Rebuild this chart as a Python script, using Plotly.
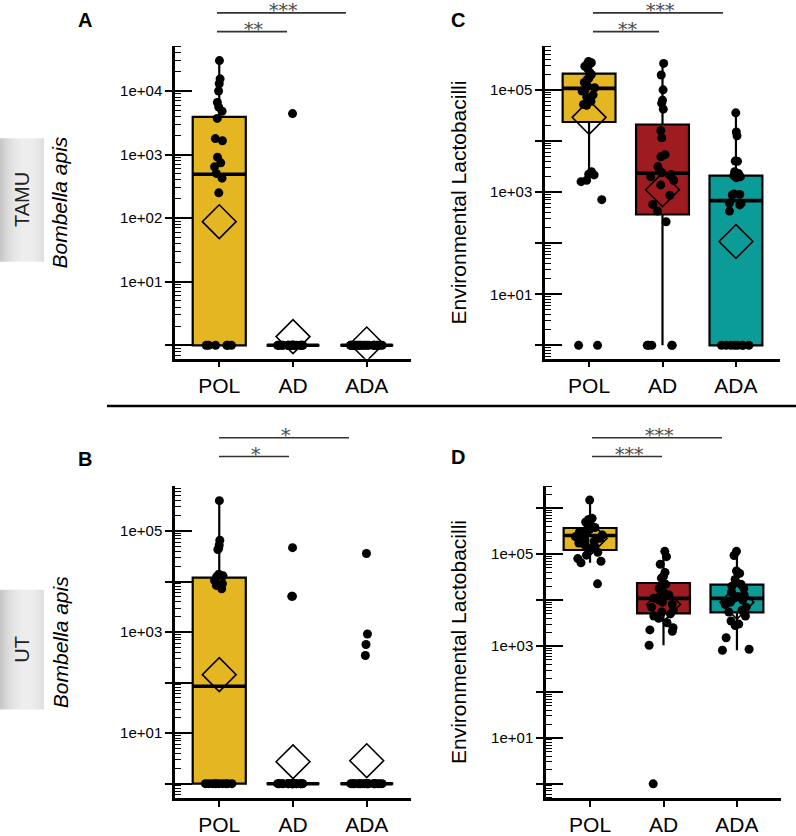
import plotly.graph_objects as go

W, H = 796, 836
cats = ["POL", "AD", "ADA"]
box_colors = ["#E4B622", "#9E1C20", "#0B9C98"]

# ---------------- Panel A : Bombella apis, TAMU ----------------
A_POL = [30000, 15500, 13000, 10000, 6600, 5600, 4800, 3700, 1780, 1650, 910, 740, 640,
         505, 425, 250, 1, 1, 1, 1, 1, 1]
A_AD = [4400] + [1] * 20
A_ADA = [1] * 20
A_q1 = [1, 1, 1]
A_med = [490, 1, 1]
A_q3 = [3900, 1, 1]
A_lo = [1, 1, 1]
A_hi = [30000, 1, 1]
A_mean = [88, 1.37, 1.05]

# ---------------- Panel C : Environmental Lactobacilli, TAMU ----------------
C_POL = [360000, 340000, 330000, 310000, 290000, 260000, 220000, 200000, 170000, 160000,
         140000, 120000, 110000, 100000, 95000, 80000, 72000, 60000, 52000, 50000,
         2500, 2230, 2170, 1700, 1600, 710, 1, 1]
C_AD = [330000, 195000, 100000, 63000, 55000, 42000, 16000, 11500, 5400, 4900, 3150, 2600,
        2400, 2200, 2000, 1700, 1380, 865, 570, 425, 262, 1, 1, 1, 1, 1]
C_ADA = [35500, 15000, 12600, 4040, 4000, 2500, 2300, 2100, 2000, 1900, 920, 900, 880, 610,
         600, 560, 425, 1, 1, 1, 1, 1, 1, 1, 1]
C_q1 = [23500, 364, 1]
C_med = [107000, 2330, 680]
C_q3 = [208000, 21000, 2100]
C_lo = [1650, 1, 1]
C_hi = [363000, 316000, 35500]
C_mean = [29000, 1110, 108]

# ---------------- Panel B : Bombella apis, UT ----------------
B_POL = [400000, 66000, 53000, 46000, 43000, 14000, 13000, 12500, 10500, 9100, 8400, 7200] + [1] * 10
B_AD = [47000, 5100, 5100] + [1] * 20
B_ADA = [36000, 920, 570, 345] + [1] * 20
B_q1 = [1, 1, 1]
B_med = [85, 1, 1]
B_q3 = [12000, 1, 1]
B_lo = [1, 1, 1]
B_hi = [400000, 1, 1]
B_mean = [144, 2.72, 2.85]

# ---------------- Panel D : Environmental Lactobacilli, UT ----------------
D_POL = [1500000, 600000, 570000, 520000, 500000, 450000, 400000, 380000, 350000, 320000,
         300000, 280000, 260000, 250000, 240000, 220000, 200000, 190000, 175000, 160000,
         150000, 130000, 110000, 95000, 80000, 70000, 65000, 22500]
D_AD = [115000, 88000, 60000, 40000, 33000, 30000, 22000, 18000, 15000, 13000, 12000, 11000,
        10000, 9000, 8000, 7000, 6000, 5500, 5000, 4500, 4000, 3200, 2500, 2240, 2100, 1040, 1]
D_ADA = [115000, 93000, 43000, 40000, 38000, 28000, 22000, 20000, 18000, 15000, 13000, 12000,
         11000, 10000, 9000, 8000, 7000, 6000, 5500, 4500, 3500, 3000, 2800, 1510, 850, 810]
D_q1 = [123000, 5150, 5400]
D_med = [255000, 10900, 10900]
D_q3 = [370000, 23500, 21700]
D_lo = [65000, 1040, 810]
D_hi = [1480000, 115000, 115000]
D_mean = [220000, 8000, 9000]

# tick labels
A_tickvals = [1, 10, 100, 1000, 10000]
A_ticktext = ["", "1e+01", "1e+02", "1e+03", "1e+04"]
C_tickvals = [1, 10, 100, 1000, 10000, 100000]
C_ticktext = ["", "1e+01", "", "1e+03", "", "1e+05"]
D_tickvals = [1, 10, 100, 1000, 10000, 100000, 1000000]
D_ticktext = ["", "1e+01", "", "1e+03", "", "1e+05", ""]

FONT = "Liberation Sans"


def fx(px):
    return px / W


def fy(py):
    return 1 - py / H


panels = [
    dict(n=1, pts=[A_POL, A_AD, A_ADA], q1=A_q1, med=A_med, q3=A_q3, lo=A_lo, hi=A_hi, mean=A_mean,
         tv=A_tickvals, tt=A_ticktext, x0=175, x1=411, y0=47, y1=363, rng=[-0.21, 4.70],
         title="<i>Bombella apis</i>", tx=60, letter="A", lx=85, ly=20),
    dict(n=2, pts=[C_POL, C_AD, C_ADA], q1=C_q1, med=C_med, q3=C_q3, lo=C_lo, hi=C_hi, mean=C_mean,
         tv=C_tickvals, tt=C_ticktext, x0=545, x1=780, y0=47, y1=363, rng=[-0.26, 5.85],
         title="Environmental Lactobacilli", tx=459, letter="C", lx=458, ly=20),
    dict(n=3, pts=[B_POL, B_AD, B_ADA], q1=B_q1, med=B_med, q3=B_q3, lo=B_lo, hi=B_hi, mean=B_mean,
         tv=C_tickvals, tt=C_ticktext, x0=175, x1=411, y0=492, y1=808, rng=[-0.29, 5.89],
         title="<i>Bombella apis</i>", tx=60, letter="B", lx=85, ly=465),
    dict(n=4, pts=[D_POL, D_AD, D_ADA], q1=D_q1, med=D_med, q3=D_q3, lo=D_lo, hi=D_hi, mean=D_mean,
         tv=D_tickvals, tt=D_ticktext, x0=546, x1=781, y0=492, y1=807.5, rng=[-0.305, 6.48],
         title="Environmental Lactobacilli", tx=459, letter="D", lx=458, ly=463),
]

fig = go.Figure()
layout = {}
annotations = []
shapes = []

for p in panels:
    n = p["n"]
    xa = "x" if n == 1 else f"x{n}"
    ya = "y" if n == 1 else f"y{n}"
    yo = f"y{n + 4}"
    # boxes
    for i, c in enumerate(cats):
        fig.add_trace(go.Box(
            x=[c], q1=[p["q1"][i]], median=[p["med"][i]], q3=[p["q3"][i]],
            lowerfence=[p["lo"][i]], upperfence=[p["hi"][i]],
            fillcolor=box_colors[i], line=dict(color="black", width=2.2),
            whiskerwidth=0, width=0.72, boxpoints=False, showlegend=False,
            xaxis=xa, yaxis=ya, hoverinfo="skip"))
    # thick median bars
    fig.add_trace(go.Scatter(
        x=cats, y=p["med"], mode="markers", showlegend=False, xaxis=xa, yaxis=ya,
        marker=dict(symbol="line-ew", size=37, color="black",
                    line=dict(width=3.6, color="black")), hoverinfo="skip"))
    # mean diamonds
    fig.add_trace(go.Scatter(
        x=cats, y=p["mean"], mode="markers", showlegend=False, xaxis=xa, yaxis=ya,
        marker=dict(symbol="diamond-open", size=26, color="black",
                    line=dict(width=1.6, color="black")), hoverinfo="skip"))
    # jittered points
    xs, ys = [], []
    for i, c in enumerate(cats):
        xs += [c] * len(p["pts"][i])
        ys += p["pts"][i]
    fig.add_trace(go.Box(
        x=xs, y=ys, boxpoints="all", jitter=0.62, pointpos=0, width=0.72,
        fillcolor="rgba(0,0,0,0)", line=dict(width=0, color="rgba(0,0,0,0)"),
        marker=dict(color="black", size=9, line=dict(width=0)),
        showlegend=False, xaxis=xa, yaxis=ya, hoverinfo="skip"))
    # dummy for overlay axis
    fig.add_trace(go.Scatter(x=["POL"], y=[1], mode="markers", marker=dict(opacity=0),
                             xaxis=xa, yaxis=yo, showlegend=False, hoverinfo="skip"))

    xk = "xaxis" if n == 1 else f"xaxis{n}"
    yk = "yaxis" if n == 1 else f"yaxis{n}"
    layout[xk] = dict(domain=[fx(p["x0"]), fx(p["x1"])], anchor=ya, type="category",
                      categoryorder="array", categoryarray=cats, range=[-0.6, 2.6],
                      showline=True, linewidth=2.5, linecolor="black", ticks="outside",
                      ticklen=6, tickwidth=2, tickcolor="black", showgrid=False, zeroline=False,
                      tickfont=dict(family=FONT, size=21, color="black"), fixedrange=True)
    layout[yk] = dict(domain=[fy(p["y1"]), fy(p["y0"])], anchor=xa, type="log", range=p["rng"],
                      tickmode="array", tickvals=p["tv"], ticktext=p["tt"],
                      showline=True, linewidth=2.5, linecolor="black", ticks="outside",
                      ticklen=7, tickwidth=2, tickcolor="black", showgrid=False, zeroline=False,
                      tickfont=dict(family=FONT, size=15, color="black"),
                      minor=dict(ticks="inside", ticklen=6, tickwidth=1.3, tickcolor="black",
                                 dtick="D1", showgrid=False))
    layout[f"yaxis{n + 4}"] = dict(overlaying=ya, anchor=xa, type="log", range=p["rng"],
                                   tickmode="array", tickvals=p["tv"], showticklabels=False,
                                   ticks="inside", ticklen=17, tickwidth=2, tickcolor="black",
                                   showline=False, showgrid=False, zeroline=False)
    annotations.append(dict(x=fx(p["tx"]), y=fy((p["y0"] + p["y1"]) / 2), xref="paper", yref="paper",
                            xanchor="center", yanchor="middle",
                            text=p["title"], textangle=-90, showarrow=False,
                            font=dict(family=FONT, size=21, color="black")))
    annotations.append(dict(x=fx(p["lx"]), y=fy(p["ly"]), xref="paper", yref="paper",
                            xanchor="center", yanchor="middle",
                            text="<b>%s</b>" % p["letter"], showarrow=False,
                            font=dict(family=FONT, size=20, color="black")))

# significance brackets (pixel positions)
sig = [
    (217, 287, 32, "**"), (217, 346, 13, "***"),
    (593, 659, 32, "**"), (593, 723, 13, "***"),
    (219, 289, 462, "*"), (219, 349, 443, "*"),
    (592, 662, 462, "***"), (592, 722, 443, "***"),
]
for x0, x1, yy, s in sig:
    shapes.append(dict(type="line", xref="paper", yref="paper", x0=fx(x0), x1=fx(x1),
                       y0=fy(yy), y1=fy(yy), line=dict(color="#333333", width=1.6)))
    annotations.append(dict(x=fx((x0 + x1) / 2 + 2), y=fy(yy - 3), xref="paper", yref="paper",
                            xanchor="center", yanchor="middle", text=s, showarrow=False,
                            font=dict(family="DejaVu Serif", size=19, color="#4a4a4a")))

# separator line
shapes.append(dict(type="line", xref="paper", yref="paper", x0=fx(107), x1=1.0,
                   y0=fy(411), y1=fy(411), line=dict(color="black", width=2.5)))

# side group boxes with a soft horizontal gradient
for (top, bot, label) in [(140, 265, "TAMU"), (597, 718, "UT")]:
    for k in range(22):
        xc = 2 * k + 1
        t = abs(xc - 27) / 27.0
        g = int(198 + 40 * (1 - t ** 2))
        shapes.append(dict(type="rect", xref="paper", yref="paper", x0=fx(2 * k), x1=fx(2 * k + 2),
                           y0=fy(bot), y1=fy(top), line=dict(width=0),
                           fillcolor="rgb(%d,%d,%d)" % (g, g, g), layer="below"))
    annotations.append(dict(x=fx(22), y=fy((top + bot) / 2), xref="paper", yref="paper",
                            xanchor="center", yanchor="middle",
                            text=label, textangle=-90, showarrow=False,
                            font=dict(family=FONT, size=20, color="#222222")))

layout.update(dict(width=W, height=H, margin=dict(l=0, r=0, t=0, b=0),
                   paper_bgcolor="white", plot_bgcolor="white", boxmode="overlay",
                   showlegend=False, annotations=annotations, shapes=shapes))
fig.update_layout(**layout)
fig.write_html("out.html", config={"displayModeBar": False},
               post_script="document.body.style.margin='0px';document.body.style.overflow='hidden';")
